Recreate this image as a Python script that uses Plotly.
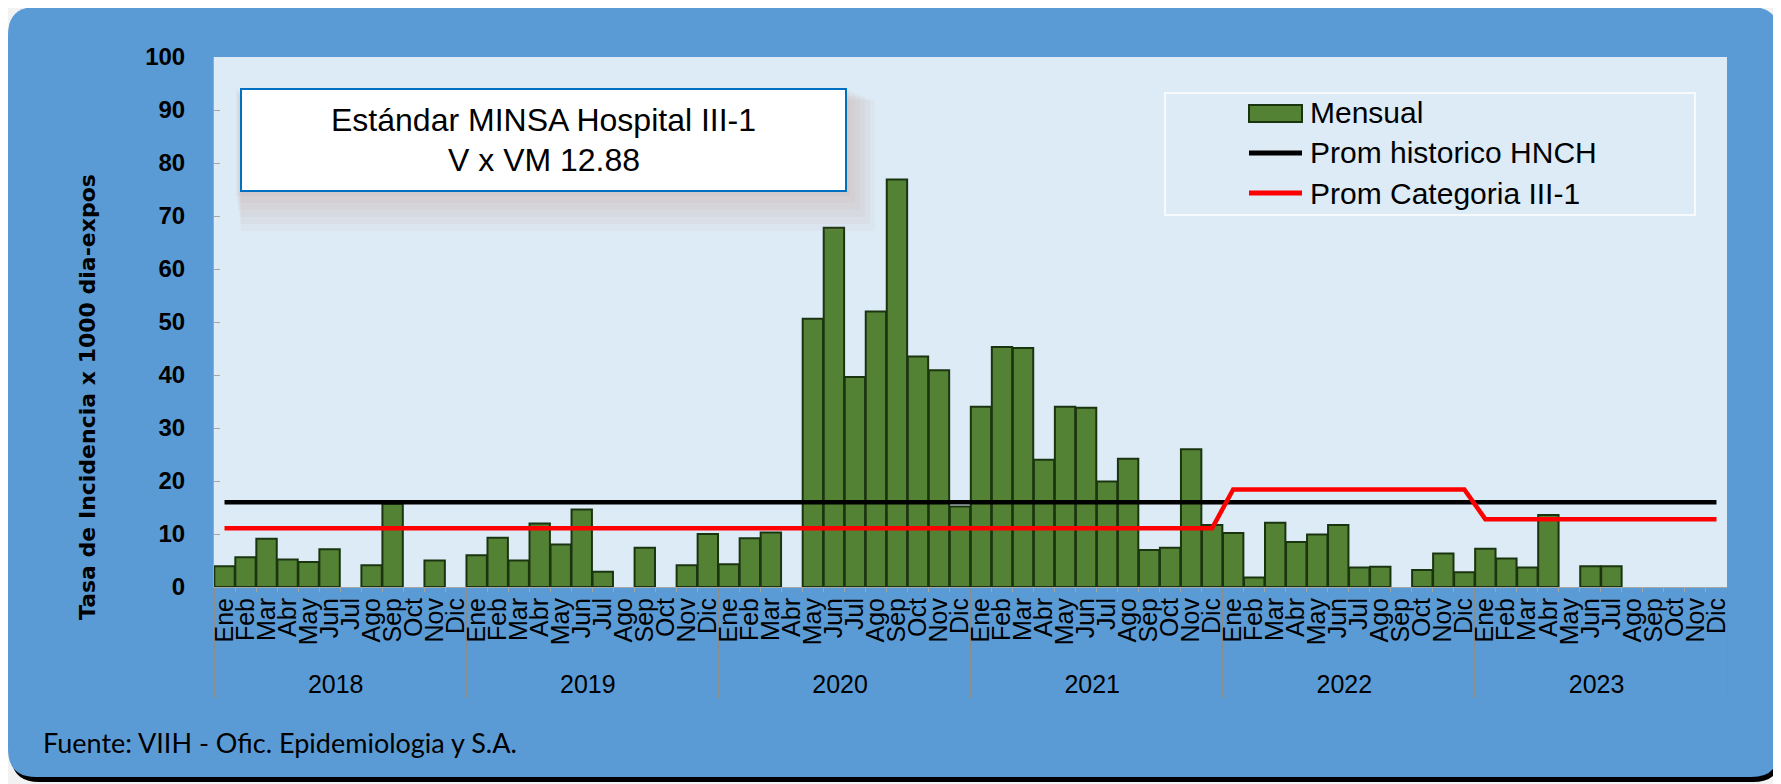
import plotly.graph_objects as go

# Datos (tasa x 1000 días-exposición)
MESES = ["Ene", "Feb", "Mar", "Abr", "May", "Jun", "Jul", "Ago", "Sep", "Oct", "Nov", "Dic"]
ANIOS = ["2018", "2019", "2020", "2021", "2022", "2023"]

# None = mes sin barra
mensual_2018 = [3.9, 5.6, 9.1, 5.2, 4.7, 7.1, None, 4.1, 15.7, None, 5.0, None]
mensual_2019 = [6.0, 9.3, 5.0, 12.0, 8.0, 14.6, 2.9, None, 7.4, None, 4.1, 10.0]
mensual_2020 = [4.3, 9.2, 10.3, None, 50.6, 67.8, 39.6, 52.0, 76.9, 43.5, 40.9, 15.2]
mensual_2021 = [34.0, 45.3, 45.1, 24.0, 34.0, 33.8, 19.9, 24.2, 7.0, 7.4, 26.0, 11.7]
mensual_2022 = [10.2, 1.8, 12.1, 8.5, 9.9, 11.7, 3.7, 3.8, None, 3.2, 6.3, 2.8]
mensual_2023 = [7.2, 5.4, 3.7, 13.6, None, 3.9, 3.9, None, None, None, None, None]

# promedios por año
prom_hist_anual = [16.0, 16.0, 16.0, 16.0, 16.0, 16.0]
prom_cat_anual = [11.1, 11.1, 11.1, 11.1, 18.4, 12.8]

VERDE = "#548235"
BORDE = "#1b3410"
FONDO_PANEL = "#5B9BD5"
FONDO_PLOT = "#DDEBF7"
FUENTE = "Liberation Sans, Arial, sans-serif"

# la página deja 8px de margen: todo se mide en px de pantalla
OFF = 8
SW, SH = 1781, 784
L, R, T, B = 214, 1727, 57, 587


def px(x):
    return (x - L) / (R - L)


def py(y):
    return (B - y) / (B - T)


def rounded_path(x0, y0, x1, y1, r):
    pts = [
        f"M{px(x0 + r)},{py(y0)}", f"L{px(x1 - r)},{py(y0)}",
        f"Q{px(x1)},{py(y0)} {px(x1)},{py(y0 + r)}", f"L{px(x1)},{py(y1 - r)}",
        f"Q{px(x1)},{py(y1)} {px(x1 - r)},{py(y1)}", f"L{px(x0 + r)},{py(y1)}",
        f"Q{px(x0)},{py(y1)} {px(x0)},{py(y1 - r)}", f"L{px(x0)},{py(y0 + r)}",
        f"Q{px(x0)},{py(y0)} {px(x0 + r)},{py(y0)}", "Z",
    ]
    return " ".join(pts)


mensual = (mensual_2018 + mensual_2019 + mensual_2020 +
           mensual_2021 + mensual_2022 + mensual_2023)
x_anio = [a for a in ANIOS for _ in MESES]
x_mes = [m for _ in ANIOS for m in MESES]
prom_hist = [v for v in prom_hist_anual for _ in MESES]
prom_cat = [v for v in prom_cat_anual for _ in MESES]

fig = go.Figure()
fig.add_trace(go.Bar(
    x=[x_anio, x_mes], y=mensual, name="Mensual",
    marker=dict(color=VERDE, line=dict(color=BORDE, width=2)),
))
fig.add_trace(go.Scatter(
    x=[x_anio, x_mes], y=prom_hist, name="Prom historico HNCH",
    mode="lines", line=dict(color="#000000", width=4.5),
))
fig.add_trace(go.Scatter(
    x=[x_anio, x_mes], y=prom_cat, name="Prom Categoria III-1",
    mode="lines", line=dict(color="#FF0000", width=4.5),
))

shapes = [
    # sombra y panel azul
    dict(type="path", xref="paper", yref="paper", layer="below",
         path=rounded_path(11, 12, 1781, 782, 28), fillcolor="#000000", line=dict(width=0)),
    dict(type="path", xref="paper", yref="paper", layer="below",
         path=rounded_path(8, 7, 1779, 777, 28), fillcolor=FONDO_PANEL, line=dict(width=0)),
    dict(type="rect", xref="paper", yref="paper", layer="below",
         x0=0, x1=1, y0=0, y1=1, fillcolor=FONDO_PLOT, line=dict(width=0)),
]
# sombra difusa del recuadro
for k in range(6):
    shapes.append(dict(type="rect", xref="paper", yref="paper",
                       x0=px(236 + k * 1), x1=px(850 + k * 5),
                       y0=py(90 + k * 2), y1=py(196 + k * 7),
                       fillcolor="rgba(190,140,125,0.06)", line=dict(width=0)))
shapes.append(dict(type="rect", xref="paper", yref="paper",
                   x0=px(241), x1=px(846), y0=py(89), y1=py(191),
                   fillcolor="#FFFFFF", line=dict(color="#0070C0", width=2)))
# leyenda
shapes += [
    dict(type="rect", xref="paper", yref="paper",
         x0=px(1165), x1=px(1695), y0=py(93), y1=py(215),
         line=dict(color="#FFFFFF", width=1.5)),
    dict(type="rect", xref="paper", yref="paper",
         x0=px(1249), x1=px(1302), y0=py(105), y1=py(122),
         fillcolor=VERDE, line=dict(color=BORDE, width=2)),
    dict(type="line", xref="paper", yref="paper",
         x0=px(1249), x1=px(1302), y0=py(153), y1=py(153),
         line=dict(color="#000000", width=5)),
    dict(type="line", xref="paper", yref="paper",
         x0=px(1249), x1=px(1302), y0=py(193), y1=py(193),
         line=dict(color="#FF0000", width=5)),
]

annotations = [
    dict(text="Estándar MINSA Hospital III-1", x=px(543.5), y=py(120),
         font=dict(size=32, color="#000000", family=FUENTE)),
    dict(text="V x VM 12.88", x=px(543.5), y=py(160),
         font=dict(size=32, color="#000000", family=FUENTE)),
    dict(text="Mensual", x=px(1308), y=py(113), xanchor="left",
         font=dict(size=30, color="#000000", family=FUENTE)),
    dict(text="Prom historico HNCH", x=px(1308), y=py(153), xanchor="left",
         font=dict(size=30, color="#000000", family=FUENTE)),
    dict(text="Prom Categoria III-1", x=px(1308), y=py(193), xanchor="left",
         font=dict(size=30, color="#000000", family=FUENTE)),
    dict(text="Tasa de Incidencia x 1000 dia-expos", x=px(87), y=py(397),
         textangle=-90, font=dict(size=22, color="#000000", family="DejaVu Sans", weight="bold")),
    dict(text="Fuente: VIIH - Ofic. Epidemiologia y S.A.", x=px(41), y=py(742),
         xanchor="left", font=dict(size=27, color="#000000", family="Lato")),
]
for a in annotations:
    a.update(xref="paper", yref="paper", showarrow=False)
    a.setdefault("xanchor", "center")
    a.setdefault("yanchor", "middle")

fig.update_layout(
    template="none", width=SW - OFF, height=SH - OFF,
    margin=dict(l=L - OFF, r=SW - R, t=T - OFF, b=SH - B),
    paper_bgcolor="#F2F2F2", plot_bgcolor=FONDO_PLOT,
    bargap=0.03, showlegend=False,
    shapes=shapes, annotations=annotations,
)
fig.update_xaxes(
    type="multicategory", automargin=False, showgrid=False,
    showline=True, linecolor="#A6A6A6", linewidth=1,
    ticks="outside", ticklen=4, tickcolor="#A6A6A6", nticks=100,
    tickangle=-90, tickfont=dict(size=25, color="#000000", family=FUENTE),
    showdividers=True, dividercolor="#8C8C8C", dividerwidth=1,
)
fig.update_yaxes(
    range=[0, 100], dtick=10, automargin=False, showgrid=False, zeroline=False,
    showline=True, linecolor="#A6A6A6", linewidth=1,
    ticks="inside", ticklen=6, tickcolor="#A6A6A6",
    tickfont=dict(size=24, color="#000000", family=FUENTE, weight="bold"),
    ticklabelstandoff=23,
)

fig.write_html("out.html")
